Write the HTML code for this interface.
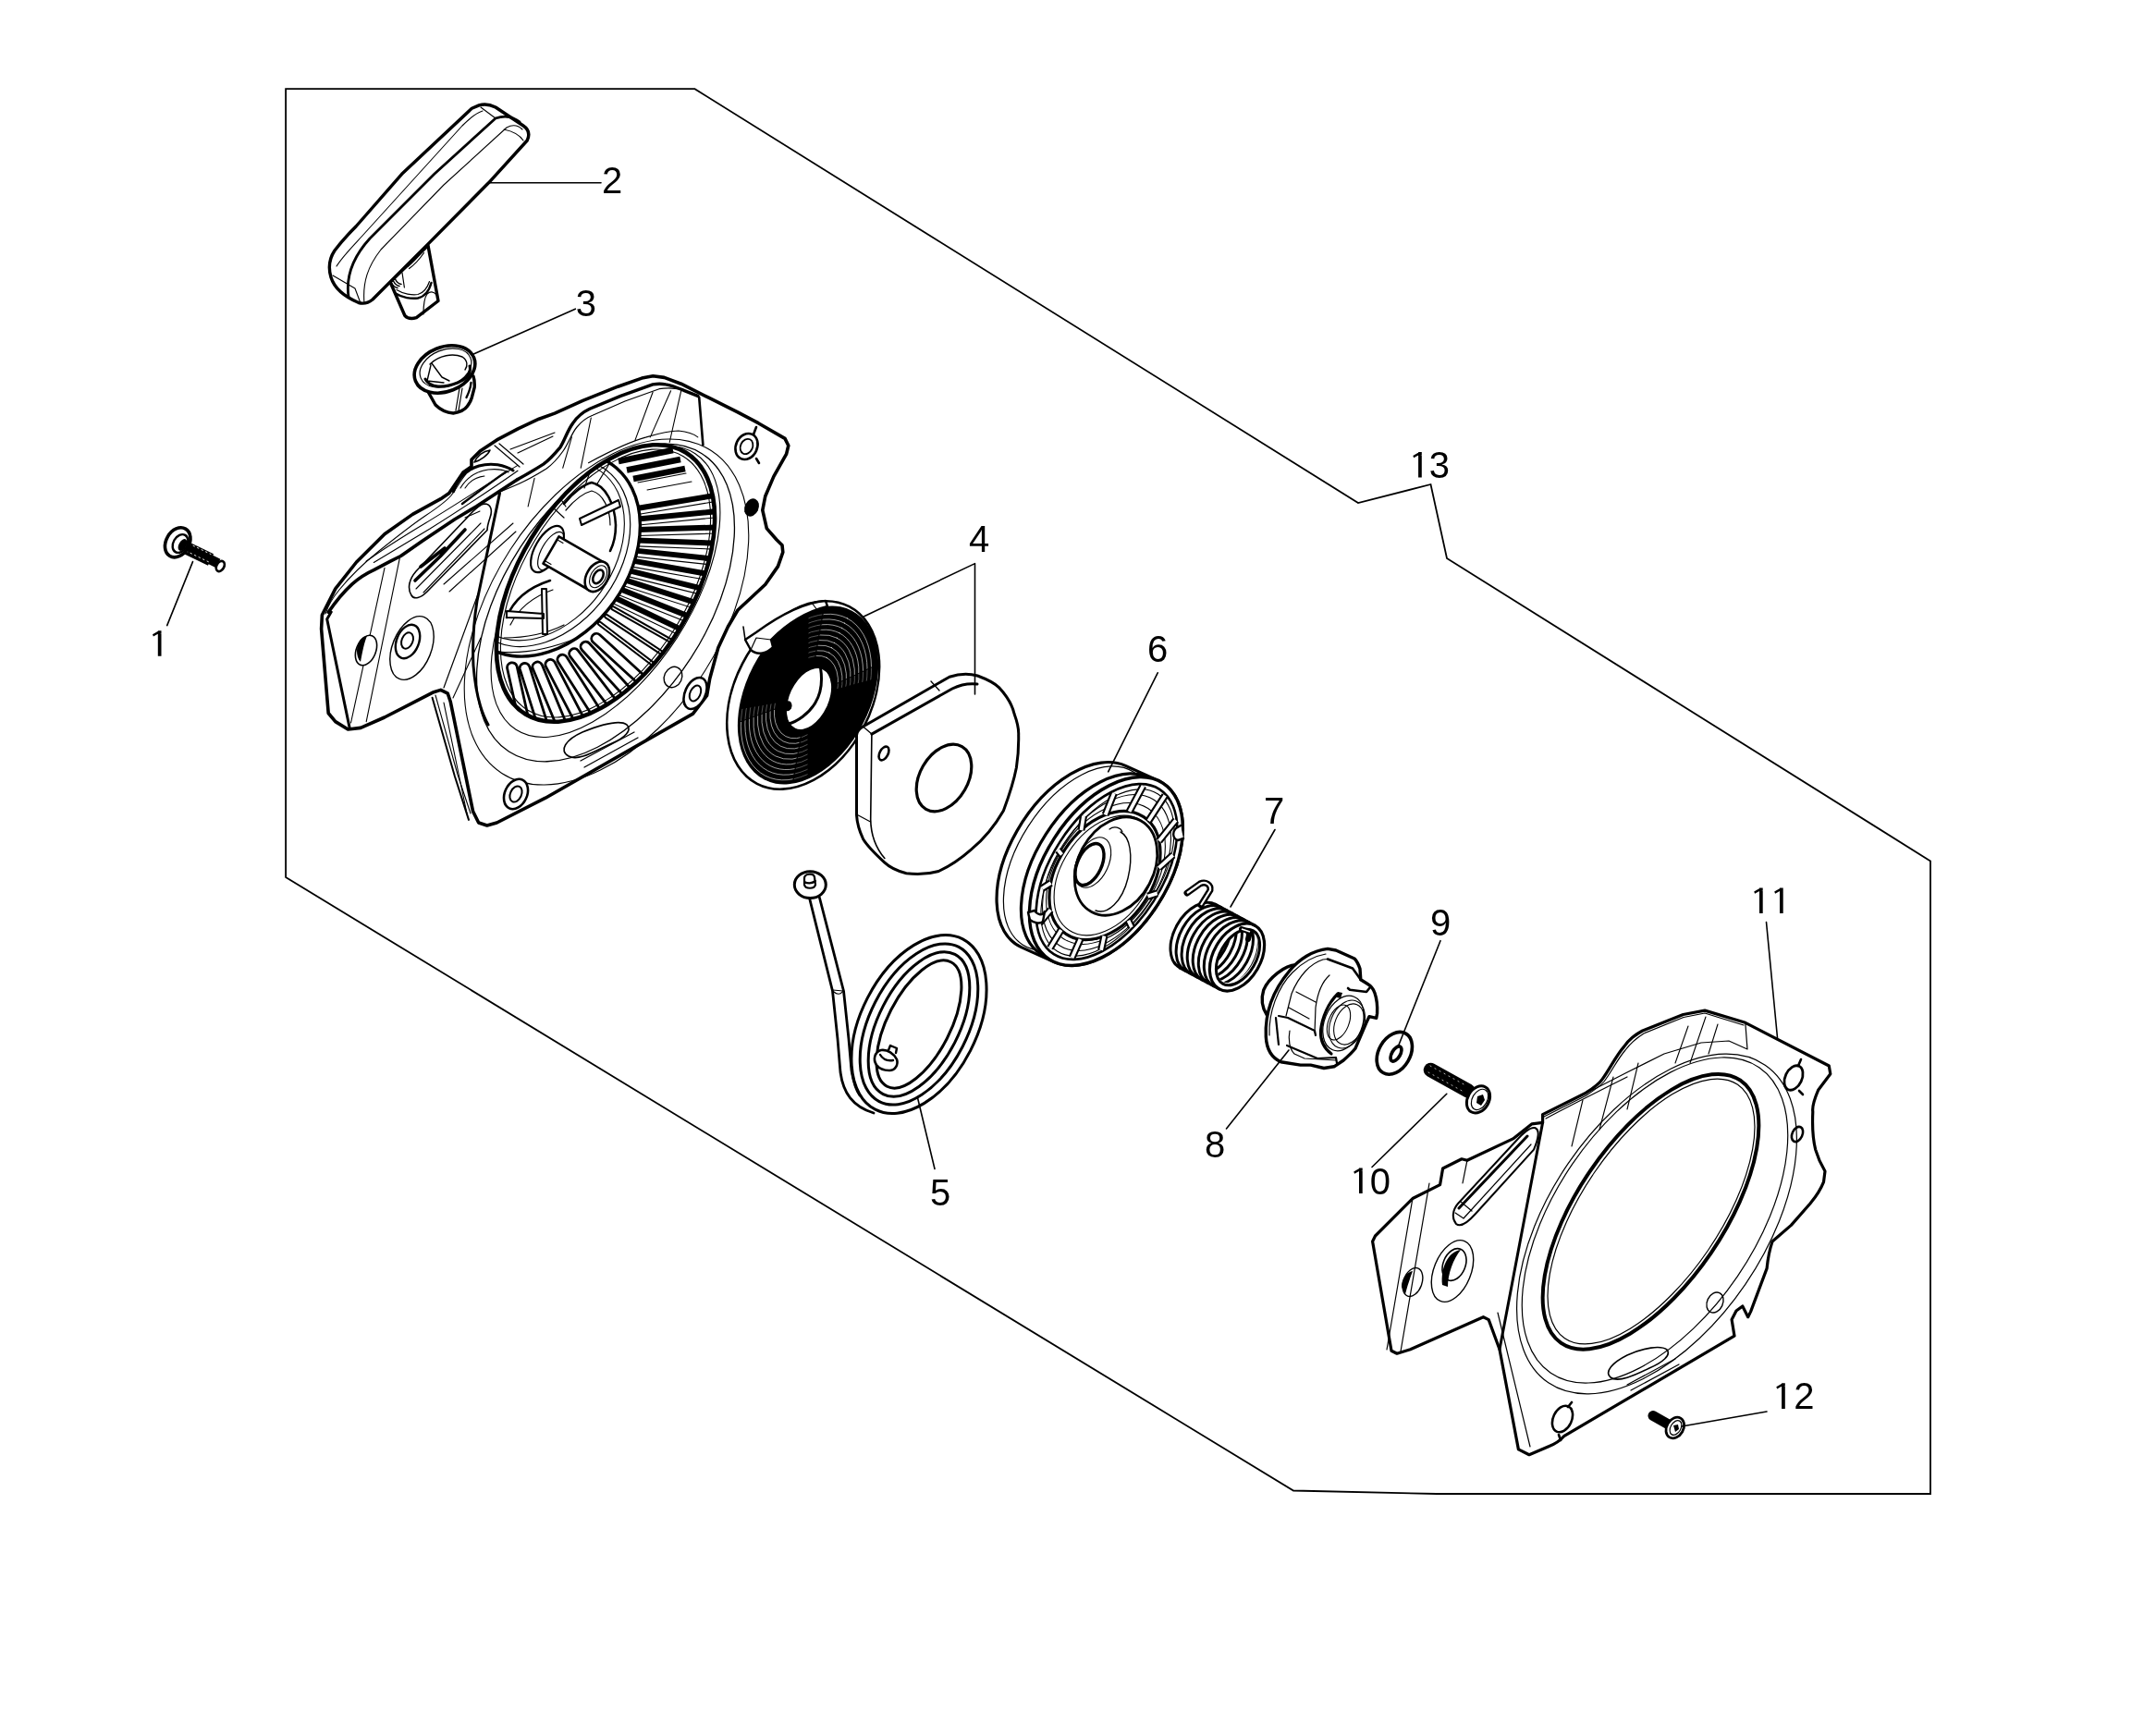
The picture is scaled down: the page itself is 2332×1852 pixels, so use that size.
<!DOCTYPE html>
<html><head><meta charset="utf-8"><title>Starter assembly</title>
<style>
html,body{margin:0;padding:0;background:#fff;}
body{width:2332px;height:1852px;overflow:hidden;}
svg{display:block;filter:grayscale(1);}
text{font-family:"Liberation Sans",sans-serif;font-size:40px;fill:#000;}
</style></head><body>
<svg width="2332" height="1852" viewBox="0 0 2332 1852">
<rect width="2332" height="1852" fill="#fff"/>
<g fill="none" stroke="#000" stroke-linejoin="round" stroke-linecap="round">
<!-- frame polygon -->
<path stroke-width="1.8" stroke-linecap="butt" stroke-linejoin="miter" d="M309.1 96.2 L751.5 96.2 L1469 544 L1547.5 524 L1565 604 L2088 931.5 L2088 1616 L1554 1616 L1399 1612.5 L309.1 949 Z"/>
<!-- ===== housing (main body) ===== -->
<defs>
<clipPath id="fanclip"><ellipse cx="655" cy="631" rx="165" ry="93" transform="rotate(-58.5 655 631)"/></clipPath>
</defs>
<g id="housing">
<path fill="#fff" stroke-width="3.6" d="M706.3 406.8 L718.5 408.4 L736.7 415.2 L767 430.4 L797.4 445.6 L820.2 457.7 L849 474.4 L852.8 482 L850.6 491.1 L836.9 515.4 L827.8 536.7 L824.8 551.9 L829.3 571.6 L839.9 583.7 L846 589.8 L846.8 597.4 L841.5 612.6 L827.8 632.3 L812 647 L798 660 L787.4 678 L776.8 700.7 L767.7 734.2 L764.6 752.4 L749.5 772.1 L590 863.2 L537.4 890 L526.8 893 L517.7 890 L511.6 877.8 L487.3 759.3 L484.3 750.2 L476.7 746.4 L469.1 748.7 L415.9 776 L390.1 787.4 L376.4 789 L362.8 780.6 L355.2 771.5 L347.6 680.4 L348.4 665.2 L362.8 636.9 L385.6 608 L416 577.7 L446.3 556.4 L476.7 539.7 L485.8 533.6 L491.9 524.5 L501 510.9 L510 504.8 L510 497.2 L519.2 488.1 L537.4 475.9 L560.2 463.8 L583 453.2 L600 447.1 L630.4 433.4 L668.3 418.2 L694.2 409.1 Z"/>
<!-- hood lower edge & face edges -->
<path stroke-width="3.6" d="M355.2 662.3 C365 648 372 640 380.9 631.9 C390 624 397 620 404.3 616.7 L421.8 607.4 L433.5 601.5 L456.8 585.2 L491.9 561.8 L515.3 547.8 L538.6 532.6 L560 518.6"/>
<path stroke-width="3.4" d="M560 518.6 C570 513 580 507 587.8 502.1 C595 497 600 491 605.9 484 C611 476 614 465 619.8 457.6 C625 450 630 446 637.9 442.3 L671.3 428.4 L706.1 415.9 C711 415 716 415 720 415.9 C727 417 734 420 740.9 422.8 L754.8 428.4"/>
<path stroke-width="1.2" d="M538 533 C548 529 556 526 562 523 C573 518 583 512 591 507 C598 502 604 495 609 488 C615 480 618 469 624 462 C629 456 634 452 641 449.3 L676 434 L713 420.7 C722 419 731 420 738.1 421.4"/>
<path stroke-width="2.6" d="M756.2 429.8 L760.4 481.3"/>
<path stroke-width="1.1" d="M706.1 424.2 L686.6 477.1 M725.6 422.8 L703.3 472.9 M736.7 422.8 L724.2 478.5 M639.3 452 L628.2 506.3 M618.4 472.9 L608.7 506.3 M578.1 517.4 L571.1 548 M636.5 500.7 C660 488 680 478 699.1 472.9 C712 469 724 466 733.9 466 C744 467 750 469 754.8 472.9"/>
<path stroke-width="3" d="M358.2 662.1 L353.7 669.7 L378 786.7"/>
<path stroke-width="3" d="M540.5 533.6 L516 650 C512 675 511 700 512 720 C514 745 519 768 528 784"/>
<path stroke-width="1.2" d="M518 640 L480 744"/>
<path stroke-width="2" d="M467.6 754.8 L491.9 839.8 L507 886.9"/>
<path stroke-width="1.1" d="M471 752 L495 838 L509 880"/>
<!-- thin detail lines -->
<g stroke-width="1.1">
<path d="M352 664 C356 652 362 644 367 638 C380 622 395 608 410 596 C430 580 445 568 460 558 C472 550 482 543 488 536 C494 528 498 520 504 513"/>
<path d="M396 607.3 C420 590 440 578 460 566 C490 548 520 528 560 503.4 M404.3 608.5 C425 596 445 584 465 572 C495 553 525 534 560 509.2"/>
<path d="M416 614.4 L379.5 782 M432.3 603.8 L396.2 780.6"/>
<path d="M480 760 L505 880"/>
<path d="M520 690 L490 755"/>
<path d="M555 566 L480 632"/>
<path d="M558 575 L486 640"/>
</g>
<!-- hood slot -->
<path stroke-width="1.6" d="M445 644 C440 636 443 626 450 618 L503.6 561.8 C512 552 518 546 524 545 C531 545 533 552 530 560 C528 566 527 572 527 573.5 L462 640 C455 647 448 649 445 644 Z"/>
<path stroke-width="3.6" d="M449 628 L476 602 L503 573 M455 613 L481 593"/>
<path stroke-width="1.1" d="M450 637 L520 566 M458 641 L524 572 M503 560 L519 553"/>
<path stroke-width="2.4" d="M500 545 C520 530 540 515 548 510"/>
<path stroke-width="3" d="M490.5 531.7 C495 518 505 508 518 504 C532 500 546 503 555 509"/>
<path stroke-width="1.1" d="M498 528 C505 516 515 510 528 508 C538 507 545 508 550 511 M503 528 C508 520 516 516 524 515"/>
<path stroke-width="1.6" d="M513 500 C517 492 524 488 530 487 C528 492 520 498 513 500 Z"/>
<path stroke-width="1.2" d="M535 482 L562 505 M540 480 L566 502 M552 486 L600 468 M560 490 L598 472"/>
<!-- flange ellipses -->
<ellipse cx="655" cy="652" rx="192" ry="110" transform="rotate(-57 655 652)" stroke-width="1.3"/>
<ellipse cx="656" cy="662" rx="208" ry="124" transform="rotate(-57 656 662)" stroke-width="1.1"/>
<ellipse cx="655" cy="640" rx="178" ry="92" transform="rotate(-57 655 640)" stroke-width="1.1"/>
<!-- fan interior -->
<ellipse cx="655" cy="631" rx="165" ry="93" transform="rotate(-58.5 655 631)" fill="#fff" stroke="none"/>
<g clip-path="url(#fanclip)">
<path stroke-width="6.5" stroke-linecap="butt" d="M669 499 L728 487 M678 508.5 L736 497 M685 518 L741 507"/>
<path stroke-width="1.1" d="M690 522 L742 512 M700 530 L748 521"/>
<path fill="#000" stroke="none" d="M689.4 553.0 L886.7 520.0 L885.7 514.1 L688.4 547.1 Z M690.5 564.5 L889.5 545.0 L888.9 539.0 L689.9 558.5 Z M690.5 576.0 L890.4 570.1 L890.2 564.1 L690.3 570.0 Z M689.3 587.4 L889.1 595.1 L889.3 589.1 L689.5 581.4 Z M687.0 598.6 L885.9 619.9 L886.5 613.9 L687.6 592.7 Z M684.0 609.6 L880.9 644.3 L882.0 638.4 L685.0 603.7 Z M680.0 620.2 L874.1 668.2 L875.6 662.4 L681.4 614.4 Z M675.1 630.3 L865.5 691.4 L867.3 685.7 L676.9 624.6 Z M669.8 640.0 L855.6 714.0 L857.8 708.4 L672.0 634.5 Z M663.6 649.2 L844.0 735.6 L846.6 730.2 L666.2 643.8 Z"/>
<path stroke-width="1.1" d="M690.0 556.5 L887.3 523.5 M690.8 568.0 L889.9 548.5 M690.6 579.5 L890.5 573.6 M689.1 590.9 L889.0 598.6 M686.6 602.1 L885.5 623.4 M683.4 613.1 L880.3 647.8 M679.2 623.6 L873.3 671.6 M674.0 633.6 L864.4 694.8 M668.5 643.3 L854.3 717.2 M662.1 652.3 L842.5 738.8"/>
<path stroke-width="5.5" stroke-linecap="round" d="M663.0 657.8 L837.1 756.3 M655.8 666.6 L822.6 777.0 M648.5 674.4 L807.6 795.5"/>
<path stroke="#fff" stroke-width="1.4" d="M663.0 657.8 L837.1 756.3 M655.8 666.6 L822.6 777.0 M648.5 674.4 L807.6 795.5"/>
<path fill="#fff" stroke-width="2.8" d="M641.5 694.8 L788.9 829.9 L796.2 822.0 L648.8 686.8 A5.4 5.4 0 0 0 641.5 694.8 Z M629.5 703.3 L764.6 850.8 L772.6 843.5 L637.5 696.0 A5.4 5.4 0 0 0 629.5 703.3 Z M616.8 710.4 L738.5 869.1 L747.1 862.5 L625.4 703.8 A5.4 5.4 0 0 0 616.8 710.4 Z M603.7 716.3 L711.1 884.9 L720.3 879.1 L612.8 710.5 A5.4 5.4 0 0 0 603.7 716.3 Z M590.2 720.6 L682.5 898.0 L692.1 893.1 L599.7 715.7 A5.4 5.4 0 0 0 590.2 720.6 Z M576.4 723.5 L653.0 908.3 L662.9 904.1 L586.4 719.4 A5.4 5.4 0 0 0 576.4 723.5 Z M562.4 724.1 L622.5 914.9 L632.8 911.6 L572.7 720.9 A5.4 5.4 0 0 0 562.4 724.1 Z M548.6 722.9 L591.9 918.2 L602.4 915.9 L559.1 720.6 A5.4 5.4 0 0 0 548.6 722.9 Z"/>
<ellipse cx="592.6" cy="600.2" rx="119.7" ry="87.8" transform="rotate(-54.3 592.6 600.2)" fill="#fff" stroke-width="3.4"/>
<ellipse cx="590" cy="598" rx="111" ry="80" transform="rotate(-54.3 590 598)" stroke-width="1.2"/>
<ellipse cx="588" cy="596" rx="106" ry="76" transform="rotate(-54.3 588 596)" stroke-width="1.1"/>
<path stroke-width="2.6" d="M548 668 C555 650 570 636 595 628 M610 545 C620 532 632 524 640 522 C655 525 665 545 666 568 C666 580 663 590 660 596"/>
<path stroke-width="1.2" d="M552 676 C560 660 575 646 598 638 M612 552 C622 540 632 533 640 531 C652 534 660 550 660 568 M545 690 C565 690 590 686 610 676 M540 705 C570 708 600 700 625 690"/>
<path fill="#fff" stroke-width="2" d="M627 561 L669 541 L671 548 L629 568 Z M586 637 L591 637 L592 686 L587 686 Z M548 661 L588 664 L588 669 L548 668 Z"/>
<path stroke-width="1.2" d="M610 560 L588 540 M612 548 L600 530 M632 528 L640 505 M645 525 L660 500"/>
</g>

<!-- shaft -->
<ellipse cx="592" cy="594" rx="13" ry="28" transform="rotate(29.9 592 594)" fill="#fff" stroke-width="2.2"/>
<ellipse cx="596" cy="596" rx="10" ry="23" transform="rotate(29.9 596 596)" stroke-width="1.2"/>
<path fill="#fff" stroke-width="2.6" d="M604.5 580.3 L654.4 609.1 L637.4 638.5 L587.5 609.7 Z"/>
<path stroke-width="1.1" d="M603 584 L609 587.5 M590 607 L596 610.5"/>
<ellipse cx="645.9" cy="623.8" rx="11.5" ry="17.5" transform="rotate(29.9 645.9 623.8)" stroke-width="2.6" fill="#fff"/>
<ellipse cx="647" cy="623.8" rx="8" ry="13" transform="rotate(29.9 647 623.8)" stroke-width="1.1"/>
<ellipse cx="647" cy="623.8" rx="4.8" ry="8" transform="rotate(29.9 647 623.8)" stroke-width="2.6"/>
<!-- fan opening outline -->
<ellipse cx="655" cy="631" rx="166" ry="94" transform="rotate(-58.5 655 631)" stroke-width="4.6"/>
<ellipse cx="655" cy="631" rx="161" ry="89.5" transform="rotate(-58.5 655 631)" stroke-width="1.1"/>
<!-- holes -->
<ellipse cx="807.5" cy="483" rx="11.5" ry="14.5" transform="rotate(25 807.5 483)" stroke-width="2.6" fill="#fff"/>
<ellipse cx="807.5" cy="483" rx="6.5" ry="8.5" transform="rotate(25 807.5 483)" stroke-width="1.8"/>
<path stroke-width="2.6" d="M815 470 L818 462 M818 496 L821 501"/>
<ellipse cx="813" cy="549" rx="7.5" ry="10" transform="rotate(25 813 549)" fill="#000" stroke="none"/>
<ellipse cx="752" cy="750" rx="11" ry="18" transform="rotate(25 752 750)" stroke-width="2.6" fill="#fff"/>
<ellipse cx="752" cy="750" rx="5.5" ry="9" transform="rotate(25 752 750)" stroke-width="2"/>
<ellipse cx="728" cy="732.5" rx="9.5" ry="11.5" transform="rotate(25 728 732.5)" stroke-width="1.4"/>
<ellipse cx="558" cy="859" rx="12" ry="17" transform="rotate(25 558 859)" stroke-width="2.6" fill="#fff"/>
<ellipse cx="558" cy="859" rx="6" ry="9" transform="rotate(25 558 859)" stroke-width="2"/>
<ellipse cx="396" cy="703.5" rx="10.5" ry="17" transform="rotate(22 396 703.5)" stroke-width="1.6" fill="#fff"/>
<path fill="#000" stroke="none" d="M386 704 C386 694 392 688 397 688 C394 695 392 705 390 716 C387 713 386 708 386 704 Z"/>
<ellipse cx="445.5" cy="701" rx="21" ry="36" transform="rotate(22 445.5 701)" stroke-width="1.4"/>
<ellipse cx="441" cy="694" rx="12" ry="19" transform="rotate(22 441 694)" stroke-width="2.4"/>
<ellipse cx="440.5" cy="693" rx="6" ry="9" transform="rotate(22 440.5 693)" stroke-width="2"/>
<!-- slot -->
<path stroke-width="1.6" d="M615 818 C604 812 612 800 630 792 C650 784 670 778 678 784 C684 790 676 798 662 804 C644 812 626 824 615 818 Z"/>
<path stroke-width="1.3" d="M628 823 L686 792 M632 830 L690 798"/>
</g>
<!-- ===== part 4 : recoil spring ===== -->
<defs>
<mask id="spmask" maskUnits="userSpaceOnUse" x="700" y="600" width="300" height="300"><path fill="#fff" d="M874.0 754.0 L908.7 557.0 L927.4 561.3 L945.7 567.3 L963.2 575.0 L980.0 584.4 L995.8 595.3 L1010.4 607.7 L1023.8 621.5 L1035.8 636.4 L1046.3 652.5 L1055.3 669.5 Z M874.0 754.0 L839.3 951.0 L818.9 946.3 L799.1 939.4 L780.1 930.6 L762.2 919.8 L745.4 907.2 L730.1 892.9 L716.4 877.1 L704.4 860.0 L694.2 841.7 L686.1 822.4 Z"/><path fill="#888" d="M874.0 754.0 L874.0 554.0 L877.5 554.0 L881.0 554.1 L884.5 554.3 L888.0 554.5 L891.4 554.8 L894.9 555.1 L898.4 555.5 L901.8 555.9 L905.3 556.5 L908.7 557.0 Z M874.0 754.0 L1055.3 669.5 L1056.7 672.7 L1058.1 675.9 L1059.4 679.1 L1060.7 682.3 L1061.9 685.6 L1063.1 688.9 L1064.2 692.2 L1065.3 695.5 L1066.3 698.9 L1067.2 702.2 Z M874.0 754.0 L874.0 954.0 L870.5 954.0 L867.0 953.9 L863.5 953.7 L860.0 953.5 L856.6 953.2 L853.1 952.9 L849.6 952.5 L846.2 952.1 L842.7 951.5 L839.3 951.0 Z M874.0 754.0 L686.1 822.4 L684.9 819.1 L683.8 815.8 L682.7 812.5 L681.7 809.1 L680.8 805.8 L679.9 802.4 L679.1 799.0 L678.4 795.6 L677.7 792.2 L677.0 788.7 Z"/></mask>
<clipPath id="spclip"><ellipse cx="874" cy="752" rx="103" ry="67" transform="rotate(-62.5 874 752)"/></clipPath>
</defs>
<g id="spring4">
<ellipse cx="868.7" cy="752" rx="108" ry="74" transform="rotate(-62.5 868.7 752)" fill="#fff" stroke-width="2.6"/>
<ellipse cx="874" cy="752" rx="103" ry="67" transform="rotate(-62.5 874 752)" fill="#000" stroke="none"/>
<g clip-path="url(#spclip)" mask="url(#spmask)" stroke="#fff" stroke-width="0.55">
<ellipse cx="872" cy="754" rx="96" ry="62" transform="rotate(-62.5 872 754)"/>
<ellipse cx="872" cy="754" rx="90" ry="58" transform="rotate(-62.5 872 754)"/>
<ellipse cx="872" cy="754" rx="84" ry="54" transform="rotate(-62.5 872 754)"/>
<ellipse cx="872" cy="754" rx="78" ry="50" transform="rotate(-62.5 872 754)"/>
<ellipse cx="872" cy="754" rx="72" ry="46" transform="rotate(-62.5 872 754)"/>
<ellipse cx="872" cy="754" rx="66" ry="42" transform="rotate(-62.5 872 754)"/>
<ellipse cx="872" cy="754" rx="60" ry="38" transform="rotate(-62.5 872 754)"/>
<ellipse cx="872" cy="754" rx="54" ry="34" transform="rotate(-62.5 872 754)"/>
<ellipse cx="872" cy="754" rx="48" ry="30" transform="rotate(-62.5 872 754)"/>
</g>
<ellipse cx="875" cy="756" rx="35" ry="21" transform="rotate(-65 875 756)" fill="#fff" stroke="none"/>
<path stroke-width="3" d="M852.5 783 C862 781 875 772 882 760 C888 750 890 738 887.5 722.5"/>
<path fill="#000" stroke="none" d="M850 759 C854 757 857 760 856.5 764 C856 768 853 770 850 769 Z"/>
<!-- outer strip / hook -->
<path fill="#fff" stroke-width="2.4" d="M806 692 L812 703 C820 710 830 706 836 700 L834 692 C850 676 870 662 895 656 L893 650 C866 652 840 668 818 684 Z"/>
<path stroke-width="1.2" d="M812 703 L818 690 L834 692 M878 652 L884 660"/>
<path stroke-width="1.6" d="M806 692 L804 678"/>
</g>
<!-- ===== part 4 : cover plate ===== -->
<g id="plate4">
<path fill="#fff" stroke-width="3" d="M933.5 786 L1027 732.2 C1040 728 1050 729 1057.3 731 C1068 735 1076 739 1080.7 743.9 C1090 754 1095 763 1097 772 C1101 783 1102 790 1101.7 795.3 C1102 810 1101 820 1099.4 830.3 C1096 848 1091 862 1085.4 877 C1075 895 1064 908 1050.3 919.1 C1038 930 1027 937 1015.3 942.5 C1003 946 990 946 980.3 944.8 C970 942 962 938 956.9 933.1 C946 923 938 915 933.5 907.4 C929 898 927 890 926.5 881.7 L926.5 795.3 C927 791 930 788 933.5 786 Z"/>
<path stroke-width="3" d="M942.9 794.1 L1030 745 C1040 740 1048 739 1057 740"/>
<path stroke-width="1.6" d="M942.9 794.1 L941.7 886.4 C942 905 948 918 956.9 928.5"/>
<path stroke-width="1.3" d="M933.5 786 L942.9 794.1 M1007 737 L1016 747 M926.5 881 L941.5 889"/>
<ellipse cx="1021" cy="841.5" rx="26" ry="39" transform="rotate(30 1021 841.5)" stroke-width="3.2"/>
<ellipse cx="956" cy="815" rx="4.5" ry="8" transform="rotate(28 956 815)" stroke-width="2.6"/>
</g>
<!-- ===== part 5 : rope ===== -->
<g id="rope5">
<ellipse cx="994" cy="1108" rx="103.6" ry="62.5" transform="rotate(-62.8 994 1108)" stroke-width="3"/>
<ellipse cx="994" cy="1108" rx="94" ry="53" transform="rotate(-62.8 994 1108)" stroke-width="3"/>
<ellipse cx="994" cy="1108" rx="85" ry="43.5" transform="rotate(-62.8 994 1108)" stroke-width="3"/>
<ellipse cx="994" cy="1108" rx="75.6" ry="34" transform="rotate(-62.8 994 1108)" stroke-width="3"/>
<path stroke-width="2.8" d="M875.4 971 L900.5 1072 L906 1124 L909 1160 C912 1182 922 1197 945 1204 M886.4 971 L912.5 1072 L918 1124 L921 1158 C923 1170 925 1178 930 1185"/>
<path stroke-width="1.2" d="M901 1071 L912 1072 M902 1073 C905 1076 909 1076 911 1073"/>
<ellipse cx="876.3" cy="957.1" rx="17" ry="14.4" stroke-width="3" fill="#fff"/>
<path stroke-width="2.2" d="M870 950 C870 945 880 944 881 949 L882 957 C881 962 871 962 870 957 Z M870 954 C874 956 878 956 882 953"/>
<path fill="#fff" stroke-width="2.6" d="M948 1152 C944 1146 946 1138 953 1136 C960 1135 967 1140 970 1146 C972 1152 968 1158 962 1158 C956 1158 951 1156 948 1152 Z"/>
<path stroke-width="2.4" d="M961 1136 L963 1131 L970 1134 L969 1139 M952 1141 C955 1146 960 1148 966 1147"/>
</g>
<!-- ===== part 6 : pulley ===== -->
<g id="pulley6">
<path fill="#fff" stroke-width="3.2" d="M1217.4 828.4 A113.4 66.5 -57.3 0 0 1104.6 1024.6 L1140 1040.6 A113.4 66.5 -57.3 0 0 1252.8 844.4 Z"/>
<ellipse cx="1166" cy="928.5" rx="111" ry="64" transform="rotate(-57.3 1166 928.5)" stroke-width="1.2"/>
<ellipse cx="1186" cy="937.5" rx="112" ry="65" transform="rotate(-57.3 1186 937.5)" fill="#fff" stroke-width="3.2"/>
<ellipse cx="1196.4" cy="942.5" rx="113.4" ry="66.5" transform="rotate(-57.3 1196.4 942.5)" fill="#fff" stroke-width="3.4"/>
<ellipse cx="1197" cy="943" rx="106" ry="60" transform="rotate(-57.3 1197 943)" stroke-width="2.6"/>
<ellipse cx="1198" cy="944" rx="101" ry="56" transform="rotate(-57.3 1198 944)" stroke-width="1.1"/>
<ellipse cx="1196" cy="945" rx="84" ry="54" transform="rotate(-57 1196 945)" stroke-width="1.1"/>
<ellipse cx="1197" cy="944" rx="94" ry="56" transform="rotate(-57 1197 944)" stroke-width="1.1"/>
<ellipse cx="1195" cy="947" rx="76" ry="51.5" transform="rotate(-56.5 1195 947)" stroke-width="3.2"/>
<ellipse cx="1195.5" cy="947" rx="71" ry="47" transform="rotate(-56.5 1195.5 947)" stroke-width="1.1"/>
<g id="spokes6">
<path stroke-width="8" stroke-linecap="butt" d="M1260.2 860.5 L1242.3 888.0 M1271.8 887.2 L1253.7 909.8 M1268.7 925.0 L1253.4 938.9 M1251.6 966.4 L1241.5 969.6 M1224.0 1003.1 L1220.5 995.9 M1191.1 1027.9 L1194.4 1012.5 M1159.6 1035.9 L1168.4 1016.1 M1135.8 1025.5 L1147.7 1006.0 M1124.2 998.8 L1136.3 984.2 M1127.3 961.0 L1136.6 955.1 M1144.4 919.6 L1148.5 924.4 M1172.0 882.9 L1169.5 898.1 M1204.9 858.1 L1195.6 881.5 M1236.4 850.1 L1221.6 877.9"/>
<path stroke="#fff" stroke-width="3.8" stroke-linecap="butt" d="M1260.2 860.5 L1242.3 888.0 M1271.8 887.2 L1253.7 909.8 M1268.7 925.0 L1253.4 938.9 M1251.6 966.4 L1241.5 969.6 M1224.0 1003.1 L1220.5 995.9 M1191.1 1027.9 L1194.4 1012.5 M1159.6 1035.9 L1168.4 1016.1 M1135.8 1025.5 L1147.7 1006.0 M1124.2 998.8 L1136.3 984.2 M1127.3 961.0 L1136.6 955.1 M1144.4 919.6 L1148.5 924.4 M1172.0 882.9 L1169.5 898.1 M1204.9 858.1 L1195.6 881.5 M1236.4 850.1 L1221.6 877.9"/>
</g>
<ellipse cx="1207" cy="937" rx="56" ry="41" transform="rotate(-62 1207 937)" stroke-width="2.8" fill="#fff"/>
<ellipse cx="1178.5" cy="935" rx="13" ry="24" transform="rotate(25 1178.5 935)" stroke-width="3.4"/>
<ellipse cx="1182" cy="933" rx="17" ry="29" transform="rotate(25 1182 933)" stroke-width="1.1"/>
<path stroke-width="1.4" d="M1212 900 C1222 905 1226 925 1220 950 C1214 975 1198 990 1185 985"/>
<path stroke-width="1.2" d="M1200 897 C1205 893 1212 895 1214 900"/>
<path fill="#fff" stroke-width="2.4" d="M1112 987 L1119 985 C1122 990 1128 991 1130 986 L1128 997 C1124 1000 1118 998 1114 995 Z"/>
<path fill="#fff" stroke-width="2.4" d="M1277 893 L1272 896 C1268 900 1268 907 1274 909 L1280 907"/>
</g>
<!-- ===== part 7 : spring ===== -->
<defs><clipPath id="s7clip"><ellipse cx="1339" cy="1035.5" rx="31.5" ry="18" transform="rotate(-60 1338 1035.5)"/></clipPath></defs>
<g id="spring7">
<path fill="#fff" stroke="none" d="M1276.4 1047.1 L1318.8 1069.9 L1357.2 1001.1 L1314.8 978.3 Z"/>
<g clip-path="url(#s7clip)" stroke-width="3"><path d="M1276.4 1047.1 A39.4 25.5 -60 0 0 1314.8 978.3 M1282.5 1050.4 A39.4 25.5 -60 0 0 1320.9 981.6 M1288.5 1053.6 A39.4 25.5 -60 0 0 1326.9 984.8 M1294.6 1056.9 A39.4 25.5 -60 0 0 1333.0 988.1 M1300.6 1060.1 A39.4 25.5 -60 0 0 1339.0 991.3 M1306.7 1063.4 A39.4 25.5 -60 0 0 1345.1 994.6 M1312.7 1066.6 A39.4 25.5 -60 0 0 1351.1 997.8"/></g>
<path stroke-width="3" d="M1314.8 978.3 A39.4 25.5 -60 0 0 1276.4 1047.1 M1320.9 981.6 A39.4 25.5 -60 0 0 1282.5 1050.4 M1326.9 984.8 A39.4 25.5 -60 0 0 1288.5 1053.6 M1333.0 988.1 A39.4 25.5 -60 0 0 1294.6 1056.9 M1339.0 991.3 A39.4 25.5 -60 0 0 1300.6 1060.1 M1345.1 994.6 A39.4 25.5 -60 0 0 1306.7 1063.4 M1351.1 997.8 A39.4 25.5 -60 0 0 1312.7 1066.6"/>
<path stroke-width="3" d="M1276.4 1047.1 L1318.8 1069.9 M1314.8 978.3 L1357.2 1001.1"/>
<ellipse cx="1338" cy="1035.5" rx="39.4" ry="25.5" transform="rotate(-60 1338 1035.5)" stroke-width="3.2"/>
<ellipse cx="1339" cy="1035.5" rx="33" ry="19.5" transform="rotate(-60 1339 1035.5)" stroke-width="3"/>
<path stroke-width="7" d="M1299 979 L1309 963 C1310 957 1304 953 1298 956 L1284 966"/>
<path stroke="#fff" stroke-width="2.2" stroke-linecap="butt" d="M1299 979 L1309 963 C1310 957 1304 953 1298 956 L1284 966"/>
<path stroke-width="6" d="M1343 1005 L1352 1008 L1350 1016"/>
<path stroke="#fff" stroke-width="1.8" stroke-linecap="butt" d="M1343 1005 L1352 1008"/>
</g>
<!-- ===== part 8 : pawl hub ===== -->
<g id="part8">
<path fill="#fff" stroke-width="3.4" d="M1401.5 1043.7 C1390 1044 1372 1058 1366.8 1070.8 C1364 1080 1365 1090 1370.2 1097.9 L1380 1100 L1402 1044 Z"/>
<path fill="#fff" stroke-width="3.4" d="M1436 1026.4 C1420 1028 1405 1038 1395 1050 C1378 1070 1368 1095 1369.3 1121.6 C1370 1135 1375 1144 1385.4 1148.7 L1406.6 1152.1 L1417.6 1152.1 L1432 1155.5 L1443 1153.8 L1453.2 1147 C1460 1141 1463 1138 1465.9 1134.3 L1478.6 1104.7 L1481 1099.6 L1488.7 1101.3 L1489.6 1096.2 C1490 1088 1489 1080 1487 1074.2 C1485 1068 1482 1066 1478.6 1064 L1471.8 1059.8 L1471 1048 C1469 1042 1467 1039 1465 1037 L1445 1028 Z"/>
<path stroke-width="1.2" d="M1373 1120 C1372 1095 1382 1068 1398 1052 C1410 1040 1422 1034 1434 1032"/>
<path stroke-width="2.6" d="M1436 1037.5 L1463 1047.5 L1471.8 1059.8 M1458 1069 L1460 1070.8 L1478 1073 L1482 1068"/>
<path stroke-width="1.2" d="M1431 1038 C1418 1042 1405 1055 1397 1075 L1391 1099 M1431 1038 L1436 1037.5 M1402 1073 L1423 1084 M1394 1090 L1416 1102 M1438 1055 C1430 1062 1425 1075 1423 1090 L1422 1117 M1395 1115 C1393 1125 1395 1135 1400 1140 L1411 1145 L1445 1147"/>
<path stroke-width="2.2" d="M1383 1099 L1393 1101 L1422 1115 L1423 1120 M1380 1101 L1383 1130 M1392 1131 L1425 1145 L1445 1144 L1446 1150"/>
<path stroke-width="3.2" d="M1447 1075 C1437 1085 1430 1100 1428.5 1115 C1428 1126 1432 1134 1440 1140"/>
<ellipse cx="1453" cy="1107" rx="20.5" ry="31" transform="rotate(22 1453 1107)" stroke-width="1.3"/>
<ellipse cx="1457" cy="1108" rx="18" ry="27" transform="rotate(22 1457 1108)" stroke-width="1.1"/>
<ellipse cx="1459" cy="1108" rx="15" ry="23" transform="rotate(22 1459 1108)" stroke-width="1.1"/>
<ellipse cx="1448" cy="1106" rx="11" ry="20" transform="rotate(22 1448 1106)" stroke-width="1.1"/>
<path fill="#000" stroke="none" d="M1447 1073 L1452 1074 L1450 1080 L1446 1079 Z"/>
</g>
<!-- ===== part 9 : washer ===== -->
<ellipse cx="1508.3" cy="1139.3" rx="17" ry="24.5" transform="rotate(30 1508.3 1139.3)" stroke-width="3.6" fill="#fff"/>
<ellipse cx="1510" cy="1140" rx="4.5" ry="9" transform="rotate(30 1510 1140)" stroke-width="3.6"/>
<!-- ===== part 10 : screw ===== -->
<g id="screw10">
<path stroke-width="15.5" stroke-linecap="round" d="M1547.5 1157.5 L1588 1180"/>
<path stroke="#fff" stroke-width="0.7" stroke-dasharray="1.2 4.5" d="M1547 1153 L1586 1174.5 M1545 1160 L1584 1181.5"/>
<ellipse cx="1599" cy="1189.4" rx="11.5" ry="15.5" transform="rotate(30 1599 1189.4)" stroke-width="3" fill="#fff"/>
<ellipse cx="1600.5" cy="1189.4" rx="8" ry="12" transform="rotate(30 1600.5 1189.4)" stroke-width="1.2"/>
<path fill="#000" stroke="none" d="M1598 1186 L1604 1184 L1606 1190 L1602 1196 L1597 1193 Z"/>
</g>
<!-- ===== part 12 : screw ===== -->
<g id="screw12">
<path stroke-width="11" stroke-linecap="round" d="M1788 1531.5 L1803 1540"/>
<ellipse cx="1811.8" cy="1544.5" rx="9" ry="12" transform="rotate(30 1811.8 1544.5)" stroke-width="2.8" fill="#fff"/>
<ellipse cx="1812.5" cy="1544.5" rx="5.5" ry="8.5" transform="rotate(30 1812.5 1544.5)" stroke-width="1.2"/>
<path fill="#000" stroke="none" d="M1810 1542 L1815 1541 L1816 1546 L1812 1549 Z"/>
</g>
<!-- ===== part 1 : screw ===== -->
<g id="screw1">
<path stroke-width="14" stroke-linecap="butt" d="M198 591 L228 605.5"/>
<path stroke-width="10.5" stroke-linecap="butt" d="M226 604.5 L236 609.5"/>
<path stroke="#fff" stroke-width="0.9" stroke-dasharray="1.5 3.5" d="M200 586 L228 599.5 M197 594 L226 608"/>
<ellipse cx="238.3" cy="612.5" rx="4" ry="6" transform="rotate(30 238.3 612.5)" stroke-width="2.6" fill="#fff"/>
<ellipse cx="192.2" cy="586.8" rx="12.5" ry="17" transform="rotate(30 192.2 586.8)" stroke-width="3.6" fill="#fff"/>
<ellipse cx="195" cy="588" rx="7.5" ry="10.5" transform="rotate(30 195 588)" stroke-width="2.4"/>
<ellipse cx="197.5" cy="589.5" rx="4" ry="7" transform="rotate(30 197.5 589.5)" fill="#000" stroke="none"/>
</g>
<!-- ===== part 2 : handle ===== -->
<g id="handle2">
<path fill="#fff" stroke-width="3.4" d="M422 305 L437.8 341.3 C441 345 446 345 450.4 343.7 L474 325.5 L463 265.6 Z"/>
<path stroke-width="2.4" d="M428 317.5 C435 322 445 323.5 452 322.5 C459 321 464 315 466.5 306"/>
<path stroke-width="1.2" d="M429 313.5 C436 318 446 319.5 452 318.5 C458 317 462 312 464.5 304.5 M435 295 L437.4 311 M441 288.5 C447 284 452 278 456.7 272.2 M442.5 290.5 C449 286 454 280 458.5 273.5 M457.9 340 C458 330 459 322 462 318 C465 315 469 315 472 319"/>
<path stroke-width="1.5" d="M423.5 306 C425 309 427 311 430 311.5 M425.5 304 C427 307 429 309 432 309.5 M427.5 302 C429 305 431 307 434 307.5"/>
<path fill="#fff" stroke-width="3.4" d="M518.2 113.9 C524 112 530 113 536 116 L566 136 C572 140 573 146 570.2 152 L528.5 197.8 L464.6 262.4 L403 324 C398 328 393 329 388 327.5 C375 322 362 313 358 300 C355 290 356 280 362 271 C368 263 375 255 385 245 L434.6 188.3 L510.3 117.3 Z"/>
<path stroke-width="2.8" d="M536 128 C548 124 555 127 562 132 M377 321 C374 300 380 280 400 258 L470 188 L536 128"/>
<path stroke-width="1.1" d="M364 288 C370 278 380 268 392 255 L500 136 C508 128 515 122 522 120 M394 328 C392 305 398 288 412 270 L480 200 L548 138 C555 134 560 135 565 140 M360 298 L384 312 L390 328 M520 116 L536 128 M545 140 C555 142 562 146 566 152"/>
</g>
<!-- ===== part 3 : grommet ===== -->
<g id="grommet3">
<path fill="#fff" stroke="none" d="M462.6 424.5 L471 438 C476 443 483 446 490.3 446.8 C500 446 507 440 510.2 430.5 L513.2 419 Z"/>
<path stroke-width="3.4" d="M462.6 423 L471 438 C476 443 483 446.5 490.3 447 C498 446 503 443 505.4 439.6 C508 436 509.5 433 510.2 430.5 L513.2 419 C513.5 414 513 410 512 407"/>
<path stroke-width="2.4" d="M504.5 430 C507 425 509 420 509.5 414"/>
<path stroke-width="1.2" d="M497 420 L493 444 M500 420 L496 444"/>
<ellipse cx="481" cy="399.5" rx="34" ry="24" transform="rotate(-22 481 399.5)" stroke-width="3.6" fill="#fff"/>
<ellipse cx="482" cy="398" rx="29" ry="19.5" transform="rotate(-22 482 398)" stroke-width="1.2"/>
<path stroke-width="3" d="M460 410 C465 420 480 420 495 414 C505 410 510 404 508 396"/>
<path stroke-width="1.4" d="M465 394 C475 384 490 382 500 386 C506 390 506 396 503 400 M466 395 L462 412 L480 414 M467 393 L478 408 L486 412"/>
</g>
<!-- ===== part 11 : base plate ===== -->
<g id="plate11">
<path fill="#fff" stroke-width="3.2" d="M1844 1093.1 L1887.8 1106.3 L1978.3 1153 L1979.8 1161.8 L1966.6 1179.3 C1962 1190 1960 1197 1960.8 1202.7 C1960 1220 1961 1233 1963.7 1243.6 C1967 1255 1971 1262 1974 1267 L1972.5 1278.6 C1968 1290 1962 1297 1957.9 1302 L1937.4 1325.4 L1917 1343 C1913 1355 1912 1363 1911.1 1372.1 L1893.6 1418.9 L1890.7 1424.7 L1884.8 1413 L1878 1418 L1873.1 1427.6 L1876 1445.2 L1692 1553.3 C1688 1558 1680 1563 1674.5 1565 L1654 1573.7 L1642.4 1567.9 L1622 1459.8 L1610.2 1427.6 L1604.4 1424.7 L1525.5 1459.8 L1511 1464.2 L1505 1461.2 L1484.6 1343 L1487.5 1337 L1528.4 1296.2 L1557.6 1281.6 L1560.6 1264 L1581 1253.8 L1586.9 1255.3 L1636.5 1231.9 L1657 1215.8 L1668.6 1214.4 L1668.6 1205.6 L1715.4 1182.2 C1725 1176 1730 1172 1733 1167.6 C1742 1155 1748 1142 1756.3 1132.6 C1762 1124 1768 1120 1776.7 1115 L1820.6 1097.5 Z"/>
<path stroke-width="3" d="M1668.6 1214.4 L1622 1459.8"/>
<path stroke-width="1.2" d="M1668.6 1205.6 L1715 1183 L1760 1160 L1800 1140 L1840 1128 L1870 1126 L1890 1135 M1887.8 1106.3 L1890 1135 M1672 1210 C1700 1195 1730 1180 1760 1165 M1546 1280 L1515 1462 M1528 1296 L1500 1460 M1586.9 1255.3 L1582 1280 M1620 1420 L1655 1565"/>
<path stroke-width="1.1" d="M1730 1222 L1745 1165 M1760 1200 L1772 1150 M1812 1150 L1826 1110 M1828 1150 L1845 1100 M1848 1140 L1858 1108 M1700 1240 L1712 1190"/>
<ellipse cx="1785.5" cy="1310.8" rx="172" ry="79" transform="rotate(-55.7 1785.5 1310.8)" stroke-width="4"/>
<ellipse cx="1786" cy="1310.5" rx="166" ry="74.5" transform="rotate(-55.7 1786 1310.5)" stroke-width="1.2"/>
<ellipse cx="1790" cy="1320" rx="200" ry="108" transform="rotate(-55.7 1790 1320)" stroke-width="1.2"/>
<ellipse cx="1792" cy="1324" rx="208" ry="116" transform="rotate(-55.7 1792 1324)" stroke-width="1.2"/>
<ellipse cx="1940" cy="1166" rx="9" ry="14" transform="rotate(25 1940 1166)" stroke-width="2.8" fill="#fff"/>
<path stroke-width="2.6" d="M1945 1153 L1948 1146 M1946 1180 L1950 1184"/>
<ellipse cx="1944" cy="1227" rx="5.5" ry="8.5" transform="rotate(25 1944 1227)" stroke-width="2.6"/>
<ellipse cx="1855" cy="1409" rx="8.5" ry="11.5" transform="rotate(25 1855 1409)" stroke-width="1.4"/>
<ellipse cx="1690" cy="1535" rx="10" ry="15" transform="rotate(25 1690 1535)" stroke-width="2.6" fill="#fff"/>
<path stroke-width="2.6" d="M1696 1522 L1700 1517 M1686 1552 L1688 1558"/>
<ellipse cx="1528" cy="1387" rx="10" ry="16" transform="rotate(20 1528 1387)" stroke-width="1.4"/>
<path fill="#000" stroke="none" d="M1516 1392 C1516 1383 1522 1376 1528 1375 C1525 1383 1522 1392 1520 1400 Z"/>
<ellipse cx="1571" cy="1375" rx="20" ry="35" transform="rotate(22 1571 1375)" stroke-width="1.4"/>
<path fill="#000" stroke="none" d="M1560 1390 C1558 1372 1566 1354 1580 1352 C1572 1362 1566 1378 1566 1392 Z"/>
<ellipse cx="1573" cy="1368" rx="12" ry="18" transform="rotate(22 1573 1368)" stroke-width="1.6"/>
<path stroke-width="2" d="M1575 1324 C1570 1318 1571 1309 1577 1302 L1640 1234 C1648 1225 1655 1219 1660 1220 C1666 1222 1664 1232 1659 1243.6 L1596 1313 C1588 1322 1580 1328 1575 1324 Z"/>
<path stroke-width="3" d="M1578 1307 L1652 1229"/>
<path stroke-width="1.2" d="M1583 1318 L1656 1238 M1574 1312 L1583 1318 M1580 1300 L1592 1310"/>
<path stroke-width="1.2" d="M1668 1209 L1715.4 1185.2 C1725 1179 1731 1175 1735 1170 C1744 1158 1750 1145 1758 1136 C1764 1128 1770 1123 1778 1118 L1821 1100.5 L1844 1096 L1886 1109"/>
<path stroke-width="1.6" d="M1742 1490 C1735 1484 1744 1474 1760 1466 C1778 1458 1796 1455 1803 1460 C1808 1466 1798 1474 1784 1480 C1768 1488 1750 1496 1742 1490 Z"/>
<path stroke-width="1.2" d="M1760 1498 L1812 1470 M1764 1504 L1816 1476"/>
</g>
<!-- leaders -->
<g stroke-width="1.6">
<path d="M180.7 676.6 L208.5 607.6"/>
<path d="M528.5 197.8 L650 197.8"/>
<path d="M622.3 334.2 L510 384"/>
<path d="M934.7 666.8 L1054.5 609.6 L1054.5 751"/>
<path d="M1011 1264.5 L992.5 1187.5"/>
<path d="M1252.2 727.8 L1198.7 834.9"/>
<path d="M1326.5 1221 L1394 1136"/>
<path d="M1558 1017.7 L1512.4 1131.7"/>
<path d="M1484 1262.5 L1564.8 1183.3"/>
<path d="M1379 897.5 L1331 981"/>
<path d="M1910.5 997.5 L1922.5 1122.5"/>
<path d="M1911 1527 L1819 1543"/>
</g>
</g>
<!-- labels -->
<path fill="#000" stroke="none" d="M170.8 682.2 L174.5 682.2 L174.5 709.8 L170.8 709.8 Z M165.0 686.2 L171.9 682.2 L174.5 682.2 L174.5 685.2 L170.8 685.7 L165.9 688.5 Z M1470.0 1263.5 L1473.7 1263.5 L1473.7 1291.1 L1470.0 1291.1 Z M1464.2 1267.5 L1471.1 1263.5 L1473.7 1263.5 L1473.7 1266.5 L1470.0 1267.0 L1465.1 1269.8 Z M1903.0 960.4 L1906.7 960.4 L1906.7 988.0 L1903.0 988.0 Z M1897.2 964.4 L1904.1 960.4 L1906.7 960.4 L1906.7 963.4 L1903.0 963.9 L1898.1 966.7 Z M1925.0 960.4 L1928.7 960.4 L1928.7 988.0 L1925.0 988.0 Z M1919.2 964.4 L1926.1 960.4 L1928.7 960.4 L1928.7 963.4 L1925.0 963.9 L1920.1 966.7 Z M1927.1 1496.3 L1930.8 1496.3 L1930.8 1523.9 L1927.1 1523.9 Z M1921.3 1500.3 L1928.2 1496.3 L1930.8 1496.3 L1930.8 1499.3 L1927.1 1499.8 L1922.2 1502.6 Z M1534.1 489.0 L1537.8 489.0 L1537.8 516.6 L1534.1 516.6 Z M1528.3 493.0 L1535.2 489.0 L1537.8 489.0 L1537.8 492.0 L1534.1 492.5 L1529.2 495.3 Z"/>
<g>
<text x="651" y="209">2</text>
<text x="622.7" y="342">3</text>
<text x="1048" y="596.6">4</text>
<text x="1006" y="1304">5</text>
<text x="1241" y="716">6</text>
<text x="1367" y="891">7</text>
<text x="1303" y="1252">8</text>
<text x="1547" y="1012.3">9</text>
<text x="1481.7" y="1292">0</text>
<text x="1940.3" y="1523.5">2</text>
<text x="1545.8" y="517.3">3</text>
</g>
</svg>
</body></html>
